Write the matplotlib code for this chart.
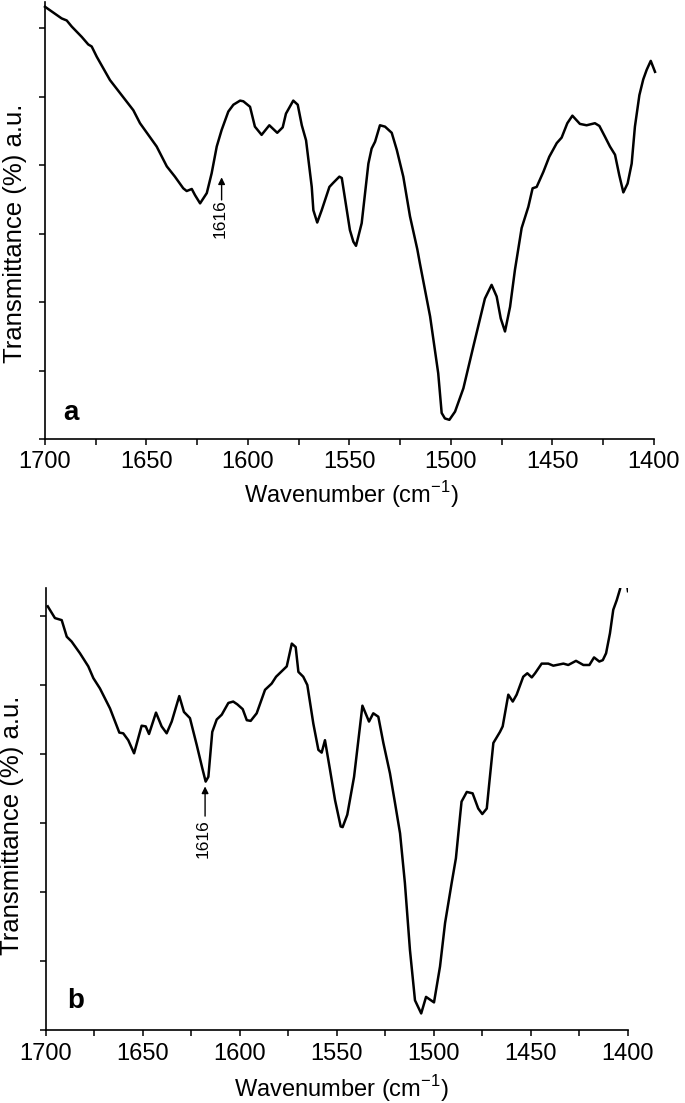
import matplotlib
matplotlib.use("Agg")
import matplotlib.pyplot as plt
from matplotlib.ticker import MultipleLocator

plt.rcParams['font.family'] = ['Liberation Sans', 'DejaVu Sans']

# ---- Panel a data (wavenumber, transmittance a.u.) ----
wn_a = [1700, 1691.8, 1689.3, 1686.8, 1681.9, 1678.7, 1677.0, 1674.5, 1668.0, 1656.5,
        1653.2, 1645.0, 1640.0, 1636.0, 1631.9, 1630.2, 1627.7, 1626.1, 1623.6, 1620.3,
        1617.9, 1615.4, 1613.0, 1609.7, 1607.2, 1603.9, 1602.3, 1599.0, 1596.6, 1593.3,
        1589.5, 1585.6, 1582.9, 1581.3, 1577.7, 1575.5, 1573.5, 1571.4, 1568.6, 1567.8,
        1565.9, 1563.7, 1559.9, 1558.0, 1555.0, 1553.8, 1549.8, 1548.1, 1546.8, 1544.0,
        1540.7, 1539.1, 1537.4, 1535.0, 1532.5, 1529.2, 1526.7, 1523.5, 1520.2, 1516.6,
        1515.3, 1510.3, 1506.3, 1504.6, 1503.0, 1500.8, 1498.0, 1493.9, 1489.0, 1483.3,
        1480.0, 1477.5, 1475.5, 1473.4, 1470.9, 1468.5, 1465.2, 1461.9, 1459.8, 1457.8,
        1454.5, 1451.6, 1447.9, 1445.5, 1442.7, 1440.2, 1436.5, 1433.2, 1429.1, 1426.9,
        1424.1, 1421.7, 1419.2, 1417.1, 1415.1, 1413.0, 1411.0, 1409.4, 1407.2, 1405.3,
        1403.6, 1401.6, 1399.5]
t_a = [6.31, 6.14, 6.11, 6.02, 5.87, 5.76, 5.73, 5.58, 5.24, 4.80,
       4.61, 4.27, 3.98, 3.83, 3.66, 3.62, 3.65, 3.56, 3.44, 3.59,
       3.88, 4.27, 4.51, 4.78, 4.88, 4.94, 4.93, 4.85, 4.56, 4.44,
       4.58, 4.47, 4.55, 4.75, 4.94, 4.88, 4.58, 4.36, 3.68, 3.34,
       3.16, 3.34, 3.68, 3.74, 3.83, 3.81, 3.05, 2.88, 2.82, 3.15,
       4.02, 4.24, 4.34, 4.58, 4.56, 4.47, 4.22, 3.83, 3.25, 2.77,
       2.56, 1.79, 0.96, 0.38, 0.30, 0.28, 0.40, 0.74, 1.35, 2.05,
       2.25, 2.08, 1.76, 1.57, 1.93, 2.47, 3.08, 3.39, 3.66, 3.68,
       3.90, 4.12, 4.32, 4.40, 4.61, 4.72, 4.60, 4.58, 4.61, 4.57,
       4.41, 4.27, 4.15, 3.85, 3.60, 3.73, 4.02, 4.56, 5.02, 5.25,
       5.39, 5.52, 5.36]

# ---- Panel b data ----
wn_b = [1699.1, 1695.4, 1691.9, 1689.3, 1686.8, 1682.5, 1678.2, 1675.6, 1672.2, 1667.0,
        1662.2, 1660.2, 1657.6, 1654.6, 1650.7, 1648.6, 1646.9, 1643.3, 1640.4, 1637.8,
        1635.2, 1631.3, 1628.9, 1625.8, 1622.3, 1619.4, 1617.7, 1616.3, 1614.3, 1612.0,
        1609.4, 1606.0, 1603.5, 1601.4, 1598.6, 1596.5, 1594.5, 1591.4, 1587.1, 1583.7,
        1581.4, 1575.9, 1573.3, 1571.3, 1569.9, 1567.4, 1565.3, 1562.2, 1559.6, 1557.9,
        1556.2, 1553.6, 1551.0, 1548.1, 1547.1, 1544.7, 1541.2, 1536.9, 1533.5, 1531.3,
        1528.7, 1526.1, 1522.7, 1520.1, 1517.5, 1515.0, 1512.4, 1509.8, 1506.6, 1504.1,
        1500.0, 1496.9, 1494.3, 1490.9, 1488.7, 1486.6, 1485.8, 1483.1, 1480.1, 1477.2,
        1475.1, 1472.8, 1471.5, 1469.4, 1466.0, 1464.6, 1461.7, 1459.4, 1457.4, 1454.0,
        1451.9, 1449.6, 1447.9, 1444.5, 1441.1, 1438.5, 1433.3, 1430.8, 1426.8, 1423.0,
        1419.9, 1417.5, 1414.8, 1413.0, 1411.3, 1409.3, 1407.6, 1405.8, 1404.1, 1402.0,
        1400.0]
t_b = [6.14, 5.97, 5.94, 5.70, 5.63, 5.46, 5.27, 5.10, 4.95, 4.66,
       4.31, 4.30, 4.20, 4.01, 4.41, 4.40, 4.29, 4.60, 4.40, 4.30,
       4.47, 4.84, 4.61, 4.52, 4.13, 3.79, 3.60, 3.67, 4.32, 4.50,
       4.57, 4.74, 4.76, 4.72, 4.65, 4.49, 4.48, 4.59, 4.93, 5.02,
       5.12, 5.27, 5.60, 5.55, 5.19, 5.12, 5.00, 4.44, 4.06, 4.02,
       4.20, 3.77, 3.33, 2.95, 2.94, 3.12, 3.67, 4.70, 4.47, 4.59,
       4.54, 4.16, 3.72, 3.29, 2.85, 2.13, 1.16, 0.43, 0.24, 0.48,
       0.40, 0.92, 1.55, 2.13, 2.49, 3.09, 3.31, 3.45, 3.43, 3.21,
       3.13, 3.21, 3.58, 4.16, 4.32, 4.40, 4.86, 4.76, 4.86, 5.12,
       5.17, 5.11, 5.17, 5.31, 5.31, 5.28, 5.31, 5.29, 5.35, 5.29,
       5.29, 5.40, 5.34, 5.36, 5.46, 5.75, 6.09, 6.23, 6.39, 6.75,
       6.36]

x_major = [1700, 1650, 1600, 1550, 1500, 1450, 1400]
peak_label = "1616"

fig = plt.figure(figsize=(6.85, 11.03), dpi=100)
ax_a = fig.add_axes([45/685, 1-439/1103, 609/685, 437/1103])
ax_b = fig.add_axes([46/685, 1-1030/1103, 582/685, 442/1103])

def style(ax, ytop):
    ax.set_xlim(1700, 1400)
    ax.set_ylim(0, ytop)
    ax.set_xticks(x_major)
    ax.xaxis.set_minor_locator(MultipleLocator(25))
    ax.set_yticks(range(0, 7))
    ax.set_yticklabels([])
    for s in ('top', 'right'):
        ax.spines[s].set_visible(False)
    for s in ('left', 'bottom'):
        ax.spines[s].set_linewidth(1.2)
    ax.tick_params(axis='x', which='both', direction='out', length=4, width=1.1,
                   labelsize=17, pad=5)
    ax.tick_params(axis='y', which='both', direction='out', length=4, width=1.1)
    ax.set_ylabel("Transmittance (%) a.u.", fontsize=18.5)

style(ax_a, 437/68.5)
style(ax_b, 442/69)
ax_a.yaxis.set_label_coords(-0.030, 0.471)
ax_b.yaxis.set_label_coords(-0.038, 0.464)

ax_a.plot(wn_a, t_a, color='black', lw=1.8, clip_on=False)
ax_b.plot(wn_b, t_b, color='black', lw=1.8)

ax_a.text(0.03, 0.043, 'a', transform=ax_a.transAxes, fontsize=20, fontweight='bold',
          ha='left', va='baseline')
ax_b.text(0.036, 0.05, 'b', transform=ax_b.transAxes, fontsize=20, fontweight='bold',
          ha='left', va='baseline')

arrow = dict(arrowstyle='-|>', color='black', lw=1.0, mutation_scale=10, shrinkA=0, shrinkB=0)
ax_a.annotate('', xy=(1613.0, 3.82), xytext=(1613.0, 3.49), arrowprops=arrow)
ax_a.text(1613.8, 3.21, peak_label, rotation=90, ha='center', va='center', fontsize=12.5)
ax_b.annotate('', xy=(1618.0, 3.53), xytext=(1618.0, 3.10), arrowprops=arrow)
ax_b.text(1619.1, 2.78, peak_label, rotation=90, ha='center', va='center', fontsize=12.5)

fig.text(351/685, 1-503/1103, r"Wavenumber (cm$^{\mathregular{-1}}$)", fontsize=17,
         ha='center', va='baseline')
fig.text(341/685, 1-1097/1103, r"Wavenumber (cm$^{\mathregular{-1}}$)", fontsize=17,
         ha='center', va='baseline')

fig.savefig("out.png", dpi=100)
